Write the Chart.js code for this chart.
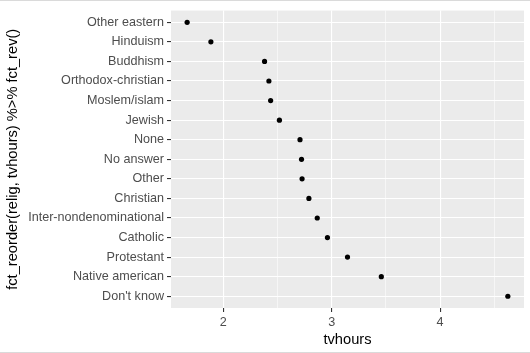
<!DOCTYPE html>
<html><head><meta charset="utf-8">
<script src="https://cdn.jsdelivr.net/npm/chart.js@4/dist/chart.umd.min.js"></script>
<style>html,body{margin:0;padding:0;background:#fff;overflow:hidden;} canvas{display:block;}</style>
</head><body>
<canvas id="c" width="530" height="353"></canvas>
<script>
const categories = ["Other eastern","Hinduism","Buddhism","Orthodox-christian","Moslem/islam","Jewish","None","No answer","Other","Christian","Inter-nondenominational","Catholic","Protestant","Native american","Don't know"];
const tvhours = [1.667,1.886,2.381,2.421,2.437,2.518,2.708,2.722,2.727,2.790,2.867,2.961,3.146,3.458,4.625];
const xMajorTicks = [2,3,4];
const xMinorTicks = [2.5,3.5,4.5];
const xTitle = "tvhours";
const yTitle = "fct_reorder(relig, tvhours) %>% fct_rev()";

const FONT = '"Liberation Sans", Arial, sans-serif';

const panelBg = {
  id: 'panelBg',
  beforeDraw(chart) {
    const {ctx, chartArea: a} = chart;
    ctx.save();
    ctx.fillStyle = '#EBEBEB';
    ctx.fillRect(a.left, a.top, a.right - a.left, a.bottom - a.top);
    ctx.strokeStyle = '#DADADA';
    ctx.lineWidth = 1;
    ctx.beginPath();
    ctx.moveTo(0, 0.5); ctx.lineTo(chart.width, 0.5);
    ctx.moveTo(0, chart.height - 0.5); ctx.lineTo(chart.width, chart.height - 0.5);
    ctx.stroke();
    ctx.restore();
  }
};

const isMajor = v => xMajorTicks.includes(v);

new Chart(document.getElementById('c'), {
  type: 'scatter',
  data: {
    datasets: [{
      data: tvhours.map((v, i) => ({x: v, y: i})),
      backgroundColor: '#000',
      borderWidth: 0,
      pointRadius: 2.6,
      pointHoverRadius: 2.6
    }]
  },
  options: {
    responsive: false,
    animation: false,
    layout: {padding: {top: 8, right: 6, left: 0, bottom: 0}},
    plugins: {legend: {display: false}, tooltip: {enabled: false}},
    scales: {
      x: {
        type: 'linear',
        min: 1.518,
        max: 4.774,
        afterBuildTicks: s => { s.ticks = [...xMajorTicks, ...xMinorTicks].sort((a, b) => a - b).map(v => ({value: v})); },
        afterFit: s => { s.height = 45; },
        border: {display: false},
        grid: {
          color: '#FFFFFF',
          lineWidth: c => (c.tick && isMajor(c.tick.value)) ? 1.1 : 0.55,
          tickColor: c => (c.tick && isMajor(c.tick.value)) ? '#333333' : 'rgba(0,0,0,0)',
          tickLength: 4,
          tickWidth: 1.1
        },
        ticks: {
          autoSkip: false, maxRotation: 0, padding: 3,
          color: '#4D4D4D',
          font: {family: FONT, size: 12.6},
          callback: v => isMajor(v) ? String(v) : ''
        },
        title: {display: true, text: xTitle, color: '#000', font: {family: FONT, size: 14.67}, padding: {top: 4, bottom: 4}}
      },
      y: {
        type: 'linear',
        min: -0.6,
        max: 14.6,
        reverse: true,
        afterBuildTicks: s => { s.ticks = categories.map((_, i) => ({value: i})); },
        afterFit: s => { s.width = 171; },
        border: {display: false},
        grid: {color: '#FFFFFF', lineWidth: 1.1, tickColor: '#333333', tickLength: 4, tickWidth: 1.1},
        ticks: {
          autoSkip: false, padding: 3,
          color: '#4D4D4D',
          font: {family: FONT, size: 12.6},
          callback: v => categories[v]
        },
        title: {display: true, text: yTitle, color: '#000', font: {family: FONT, size: 14.67}, padding: {top: 4, bottom: 4}}
      }
    }
  },
  plugins: [panelBg]
});
</script>
</body></html>
